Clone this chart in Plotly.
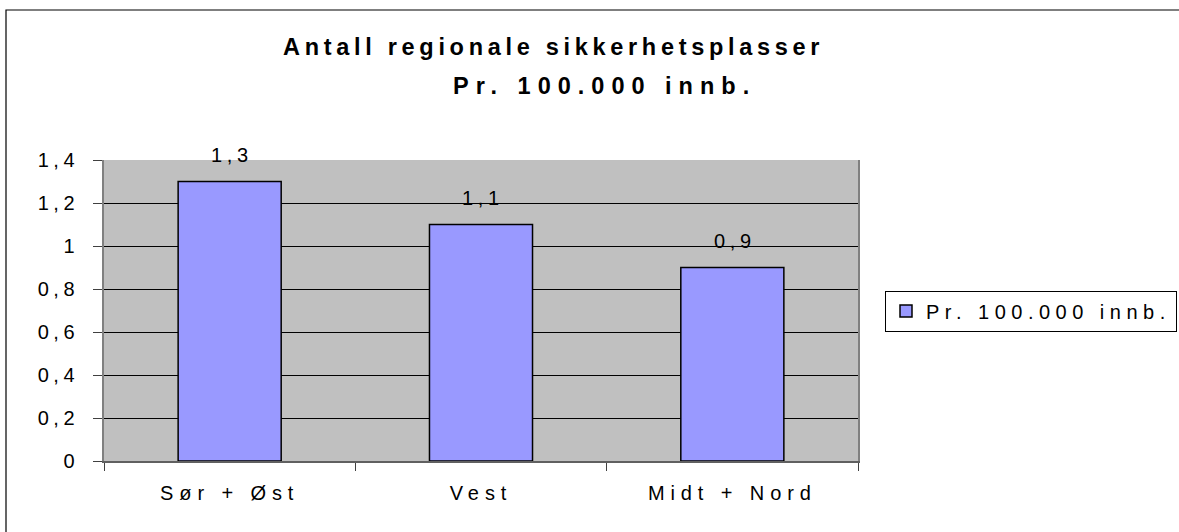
import plotly.graph_objects as go

categories = ["Sør + Øst", "Vest", "Midt + Nord"]
values = [1.3, 1.1, 0.9]
value_labels = ["1,3", "1,1", "0,9"]
series_name = "Pr. 100.000 innb."
title_line1 = "Antall regionale sikkerhetsplasser"
title_line2 = "Pr. 100.000 innb."
y_tick_values = [0, 0.2, 0.4, 0.6, 0.8, 1.0, 1.2, 1.4]
y_tick_labels = ["0", "0,2", "0,4", "0,6", "0,8", "1", "1,2", "1,4"]

FONT = "Liberation Sans, Arial, sans-serif"
FS = 20
LS = 4.6  # letter spacing of numeric labels


def spaced(s, px):
    return f'<span style="letter-spacing:{px}px">{s}</span>'


W, H = 1179, 532
L, R, T, B = 104, 321, 160, 71
pw, ph = W - L - R, H - T - B


def px_x(x):
    return (x - L) / pw


def px_y(y):
    return (H - B - y) / ph


fig = go.Figure()
fig.add_trace(go.Bar(
    x=categories, y=values, name=spaced(series_name, 5.5),
    width=0.41,
    marker=dict(color="#9999FF", line=dict(color="black", width=1.5)),
    hoverinfo="skip",
))

annotations = []
for c, v, lab in zip(categories, values, value_labels):
    annotations.append(dict(
        x=c, y=v, xref="x", yref="y", text=spaced(lab, LS), showarrow=False,
        yanchor="bottom", xanchor="center", yshift=14, xshift=LS / 2,
        font=dict(family=FONT, size=FS, color="black"),
    ))

annotations.append(dict(
    x=px_x(553), y=px_y(47), xref="paper", yref="paper",
    text="<b>" + spaced(title_line1, 4.7) + "</b>", showarrow=False,
    xanchor="center", yanchor="middle",
    font=dict(family=FONT, size=23.5, color="black"),
))
annotations.append(dict(
    x=px_x(604), y=px_y(86), xref="paper", yref="paper",
    text="<b>" + spaced(title_line2, 7.0) + "</b>", showarrow=False,
    xanchor="center", yanchor="middle",
    font=dict(family=FONT, size=23.5, color="black"),
))

fig.update_layout(
    width=W, height=H,
    margin=dict(l=L, r=R, t=T, b=B, pad=0),
    paper_bgcolor="white",
    plot_bgcolor="#C0C0C0",
    font=dict(family=FONT, size=FS, color="black"),
    showlegend=True,
    legend=dict(
        xref="container", yref="container",
        x=885 / W, y=1 - 311 / H, xanchor="left", yanchor="middle",
        bgcolor="white", bordercolor="black", borderwidth=1,
        font=dict(family=FONT, size=FS, color="black"),
        itemwidth=30,
    ),
    annotations=annotations,
    shapes=[dict(
        type="rect", xref="paper", yref="paper",
        x0=px_x(6), x1=px_x(1250), y0=px_y(600), y1=px_y(10),
        line=dict(color="black", width=1.2), fillcolor="rgba(0,0,0,0)",
        layer="below",
    )],
    bargap=0.59,
)

fig.update_xaxes(
    type="category", range=[-0.5, 2.5],
    tickmode="array", tickvals=categories,
    ticktext=[spaced(c, 5.9) for c in categories],
    tickson="boundaries", ticks="outside", ticklen=8, tickcolor="#404040",
    showline=True, linecolor="#606060", linewidth=1.5, mirror=False,
    showgrid=False, tickfont=dict(family=FONT, size=FS, color="black"),
    ticklabelstandoff=13,
)
fig.update_yaxes(
    range=[0, 1.4], tickmode="array", tickvals=y_tick_values,
    ticktext=[spaced(t, LS) for t in y_tick_labels],
    ticks="outside", ticklen=9, tickcolor="#404040",
    showgrid=True, gridcolor="black", gridwidth=1,
    showline=True, linecolor="#808080", linewidth=1.5, mirror=True,
    zeroline=False, tickfont=dict(family=FONT, size=FS, color="black"),
    ticklabelstandoff=10,
)

fig.write_html(
    "out.html",
    config={"displayModeBar": False},
    post_script="document.body.style.margin='0';document.body.style.overflow='hidden';",
)
